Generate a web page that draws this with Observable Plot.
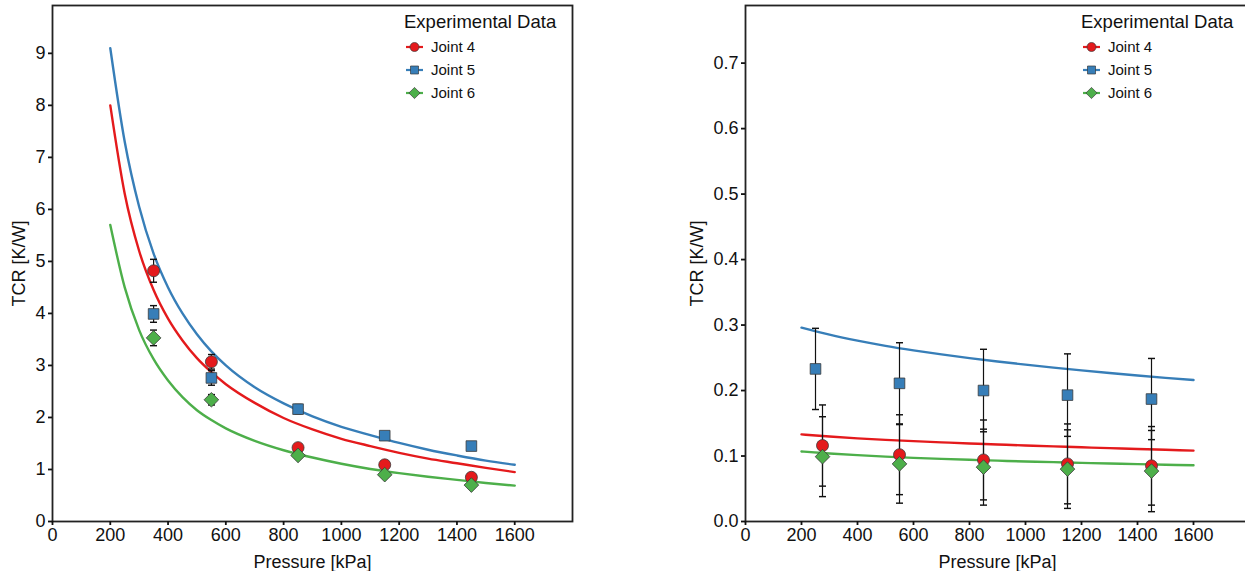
<!DOCTYPE html>
<html>
<head>
<meta charset="utf-8">
<script src="https://cdn.jsdelivr.net/npm/d3@7"></script>
<script src="https://cdn.jsdelivr.net/npm/@observablehq/plot@0.6"></script>
<style>
html,body{margin:0;padding:0;background:#fff;overflow:hidden;width:1245px;height:571px}
#wrap{position:relative;width:1245px;height:571px;overflow:hidden;font-family:"Liberation Sans",Arial,sans-serif;color:#111}
#wrap svg.pl{position:absolute;top:0}
.lg{position:absolute;white-space:nowrap;color:#111}
</style>
</head>
<body>
<div id="wrap"></div>
<script>
// ---------- shared ----------
const joints = ["Joint 4", "Joint 5", "Joint 6"];
const jointColors = ["#e41a1c", "#377eb8", "#4daf4a"];
const jointSymbols = ["circle", "square", "diamond2"];
const xTicks = [0, 200, 400, 600, 800, 1000, 1200, 1400, 1600];

// ---------- left panel ----------
const leftP = [350, 550, 850, 1150, 1450];
const leftJ4 = [4.82, 3.07, 1.42, 1.09, 0.85];
const leftJ5 = [3.99, 2.76, 2.16, 1.65, 1.45];
const leftJ6 = [3.53, 2.34, 1.27, 0.90, 0.70];
const leftErr4 = [0.22, 0.14, 0.06, 0.05, 0.04];
const leftErr5 = [0.16, 0.14, 0.09, 0.07, 0.06];
const leftErr6 = [0.15, 0.10, 0.05, 0.04, 0.04];
const leftFitP = [200, 250, 300, 350, 400, 450, 500, 550, 600, 700, 800, 900, 1000, 1100, 1200, 1300, 1400, 1500, 1600];
const leftFit4 = [8.0, 6.3, 5.2, 4.45, 3.9, 3.48, 3.14, 2.87, 2.64, 2.28, 1.99, 1.77, 1.59, 1.45, 1.32, 1.21, 1.12, 1.03, 0.95];
const leftFit5 = [9.1, 7.3, 6.05, 5.15, 4.5, 4.0, 3.6, 3.27, 3.0, 2.58, 2.27, 2.02, 1.82, 1.66, 1.51, 1.38, 1.27, 1.17, 1.09];
const leftFit6 = [5.7, 4.5, 3.68, 3.12, 2.71, 2.39, 2.14, 1.95, 1.79, 1.55, 1.37, 1.23, 1.11, 1.01, 0.93, 0.86, 0.80, 0.74, 0.69];
const leftYTicks = [0, 1, 2, 3, 4, 5, 6, 7, 8, 9];

// ---------- right panel ----------
const rightP4 = [275, 550, 850, 1150, 1450];
const rightP5 = [250, 550, 850, 1150, 1450];
const rightP6 = [275, 550, 850, 1150, 1450];
const rightJ4 = [0.116, 0.102, 0.094, 0.088, 0.085];
const rightJ5 = [0.233, 0.211, 0.200, 0.193, 0.187];
const rightJ6 = [0.099, 0.088, 0.083, 0.080, 0.077];
const rightErr4 = [0.062, 0.061, 0.061, 0.061, 0.060];
const rightErr5 = [0.062, 0.062, 0.063, 0.063, 0.062];
const rightErr6 = [0.061, 0.060, 0.058, 0.060, 0.062];
const rightFitP = [200, 300, 400, 500, 600, 700, 800, 900, 1000, 1100, 1200, 1300, 1400, 1500, 1600];
const rightFit4 = [0.1330, 0.1298, 0.1270, 0.1247, 0.1227, 0.1209, 0.1192, 0.1176, 0.1161, 0.1147, 0.1133, 0.1120, 0.1107, 0.1095, 0.1083];
const rightFit5 = [0.2960, 0.2853, 0.2762, 0.2683, 0.2614, 0.2552, 0.2495, 0.2443, 0.2395, 0.2350, 0.2308, 0.2268, 0.2230, 0.2194, 0.2160];
const rightFit6 = [0.1070, 0.1038, 0.1013, 0.0991, 0.0972, 0.0956, 0.0942, 0.0929, 0.0917, 0.0906, 0.0895, 0.0885, 0.0876, 0.0867, 0.0859];
const rightYTicks = [0, 0.1, 0.2, 0.3, 0.4, 0.5, 0.6, 0.7];

function rows(xs, ys, es) { return xs.map((x, i) => ({x, y: ys[i], e: es ? es[i] : 0})); }

const symbolR = [6, 6, 6.6];

function panel(o) {
  const marks = [];
  o.fits.forEach((f, i) => {
    marks.push(Plot.line(rows(o.fitP, f), {x: "x", y: "y", stroke: jointColors[i], strokeWidth: 2.4, curve: "monotone-x"}));
  });
  o.series.forEach((s) => {
    marks.push(Plot.link(rows(s.x, s.y, s.e), {
      x1: "x", x2: "x", y1: d => d.y - d.e, y2: d => d.y + d.e,
      stroke: "#111", strokeWidth: 1.2, markerStart: "tick", markerEnd: "tick"
    }));
  });
  o.series.forEach((s, i) => {
    marks.push(Plot.dot(rows(s.x, s.y), {x: "x", y: "y", symbol: jointSymbols[i], r: symbolR[i], fill: jointColors[i], stroke: "#3a3a3a", strokeWidth: 0.8}));
  });
  marks.push(Plot.frame({stroke: "#222", strokeWidth: 1.8}));
  marks.push(Plot.axisX({ticks: xTicks, tickFormat: d3.format("d"), tickSize: 4, tickPadding: 3, strokeWidth: 1.8, fontSize: 18,
    label: "Pressure [kPa]", labelAnchor: "center", labelArrow: "none", labelOffset: 46}));
  marks.push(Plot.axisY({ticks: o.yTicks, tickFormat: o.yFormat, tickSize: 4, tickPadding: 3, strokeWidth: 1.8, fontSize: 18,
    label: "TCR [K/W]", labelAnchor: "center", labelArrow: "none", labelOffset: o.yLabelOffset}));
  const svg = Plot.plot({
    width: o.width, height: 571,
    marginTop: 5, marginBottom: 50, marginLeft: o.marginLeft, marginRight: o.marginRight,
    x: {domain: [0, 1800]},
    y: {domain: o.yDomain},
    style: {fontFamily: '"Liberation Sans", Arial, sans-serif', fontSize: "18px", color: "#111", background: "transparent", overflow: "visible"},
    marks
  });
  svg.classList.add("pl");
  svg.style.left = o.left + "px";
  return svg;
}

function legend(wrap, left) {
  const t = document.createElement("div");
  t.className = "lg";
  t.style.left = left + "px"; t.style.top = "11px";
  t.style.fontSize = "18.5px"; t.style.lineHeight = "22px";
  t.textContent = "Experimental Data";
  wrap.appendChild(t);
  joints.forEach((j, i) => {
    const cy = 47 + i * 23;
    const s = d3.create("svg").attr("width", 20).attr("height", 16)
      .style("position", "absolute").style("left", (left + 1) + "px").style("top", (cy - 8) + "px");
    s.append("line").attr("x1", 1).attr("x2", 18).attr("y1", 8).attr("y2", 8)
      .attr("stroke", jointColors[i]).attr("stroke-width", 2.2);
    s.append("path").attr("transform", "translate(9.5,8)")
      .attr("d", d3.symbol(i === 0 ? d3.symbolCircle : i === 1 ? d3.symbolSquare : d3.symbolDiamond2, i === 2 ? 80 : 64)())
      .attr("fill", jointColors[i]).attr("stroke", "#3a3a3a").attr("stroke-width", 0.7);
    wrap.appendChild(s.node());
    const l = document.createElement("div");
    l.className = "lg";
    l.style.left = (left + 27) + "px"; l.style.top = (cy - 9) + "px";
    l.style.fontSize = "15px"; l.style.lineHeight = "18px";
    l.textContent = j;
    wrap.appendChild(l);
  });
}

const wrap = document.getElementById("wrap");
wrap.appendChild(panel({
  left: 0, width: 622, marginLeft: 52, marginRight: 50,
  yDomain: [0, 9.92], yTicks: leftYTicks, yFormat: d3.format("d"), yLabelOffset: 40,
  fitP: leftFitP, fits: [leftFit4, leftFit5, leftFit6],
  series: [
    {x: leftP, y: leftJ4, e: leftErr4},
    {x: leftP, y: leftJ5, e: leftErr5},
    {x: leftP, y: leftJ6, e: leftErr6}
  ]
}));
wrap.appendChild(panel({
  left: 622, width: 637, marginLeft: 123, marginRight: 10,
  yDomain: [0, 0.788], yTicks: rightYTicks, yFormat: d3.format(".1f"), yLabelOffset: 55,
  fitP: rightFitP, fits: [rightFit4, rightFit5, rightFit6],
  series: [
    {x: rightP4, y: rightJ4, e: rightErr4},
    {x: rightP5, y: rightJ5, e: rightErr5},
    {x: rightP6, y: rightJ6, e: rightErr6}
  ]
}));
legend(wrap, 404);
legend(wrap, 1081);
</script>
</body>
</html>
